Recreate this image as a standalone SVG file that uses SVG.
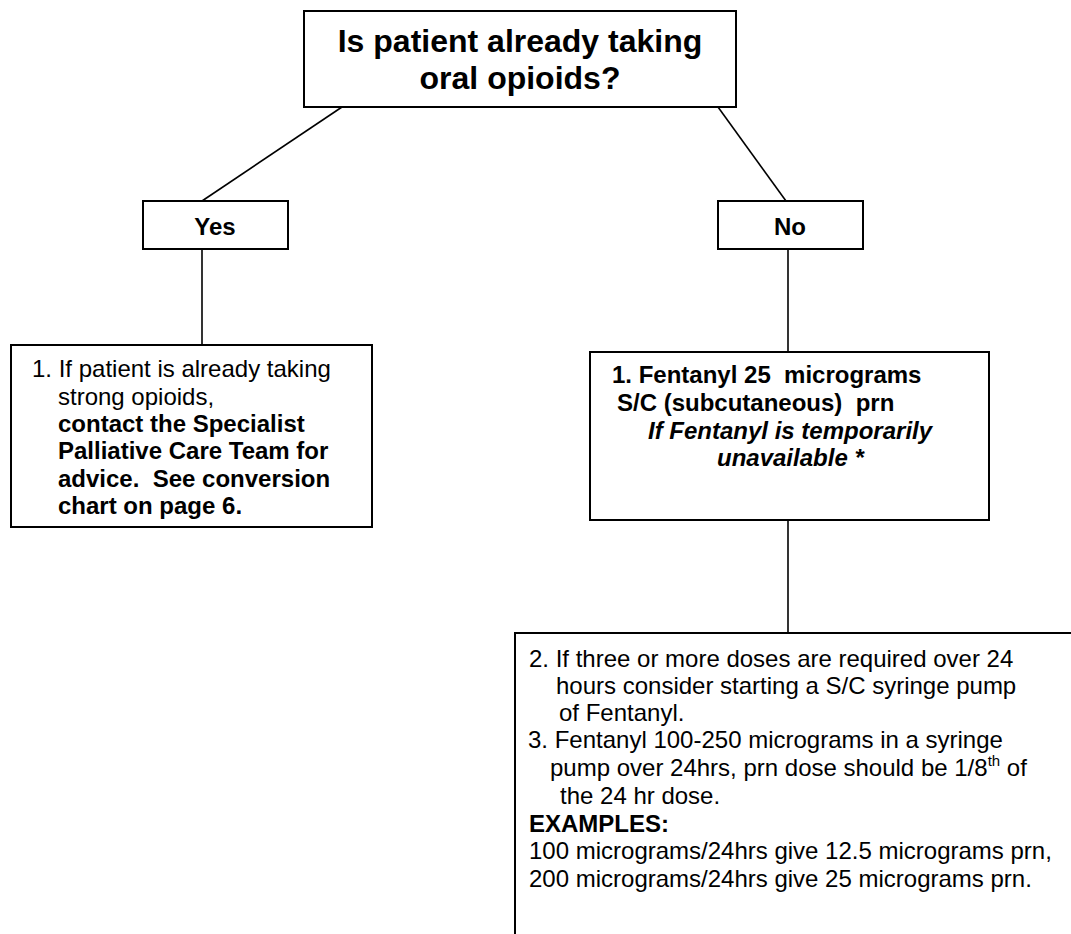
<svg xmlns="http://www.w3.org/2000/svg" width="1071" height="934" viewBox="0 0 1071 934">
<style>
.box{fill:#fff;stroke:#000;stroke-width:2}
.con{stroke:#000;stroke-width:1.6;fill:none}
text{font-family:"Liberation Sans",Arial,sans-serif;font-size:24px;fill:#000;white-space:pre}
.b{font-weight:bold}
.bi{font-weight:bold;font-style:italic}
.t{font-size:32px;font-weight:bold}
</style>
<rect width="1071" height="934" fill="#fff"/>
<g id="connectors">
<line class="con" x1="342" y1="107" x2="202" y2="201"/>
<line class="con" x1="718" y1="107" x2="786" y2="201"/>
<line class="con" x1="202" y1="249" x2="202" y2="345"/>
<line class="con" x1="788" y1="249" x2="788" y2="352"/>
<line class="con" x1="788" y1="520" x2="788" y2="633"/>
</g>
<g id="question">
<rect class="box" x="304" y="11" width="432" height="96"/>
<text class="t" x="520" y="52" text-anchor="middle">Is patient already taking</text>
<text class="t" x="520" y="89" text-anchor="middle">oral opioids?</text>
</g>
<g id="yes">
<rect class="box" x="143" y="201" width="145" height="48"/>
<text class="b" x="215" y="235" text-anchor="middle">Yes</text>
</g>
<g id="no">
<rect class="box" x="718" y="201" width="145" height="48"/>
<text class="b" x="790" y="235" text-anchor="middle">No</text>
</g>
<g id="yes-action">
<rect class="box" x="11" y="345" width="361" height="182"/>
<text x="32" y="377">1. If patient is already taking</text>
<text x="58" y="405">strong opioids,</text>
<text class="b" x="58" y="432">contact the Specialist</text>
<text class="b" x="58" y="459">Palliative Care Team for</text>
<text class="b" x="58" y="487">advice.  See conversion</text>
<text class="b" x="58" y="514">chart on page 6.</text>
</g>
<g id="no-action">
<rect class="box" x="590" y="352" width="399" height="168"/>
<text class="b" x="612" y="383">1. Fentanyl 25  micrograms</text>
<text class="b" x="617" y="411">S/C (subcutaneous)  prn</text>
<text class="bi" x="648" y="439">If Fentanyl is temporarily</text>
<text class="bi" x="717" y="466">unavailable *</text>
</g>
<g id="pump">
<rect class="box" x="515" y="633" width="600" height="400"/>
<text x="529" y="667">2. If three or more doses are required over 24</text>
<text x="556" y="694">hours consider starting a S/C syringe pump</text>
<text x="559" y="721">of Fentanyl.</text>
<text x="528" y="748">3. Fentanyl 100-250 micrograms in a syringe</text>
<text x="550" y="776">pump over 24hrs, prn dose should be 1/8<tspan font-size="15" dy="-10">th</tspan><tspan dy="10"> of</tspan></text>
<text x="560" y="804">the 24 hr dose.</text>
<text class="b" x="529" y="832">EXAMPLES:</text>
<text x="529" y="859">100 micrograms/24hrs give 12.5 micrograms prn,</text>
<text x="529" y="887">200 micrograms/24hrs give 25 micrograms prn.</text>
</g>
</svg>
